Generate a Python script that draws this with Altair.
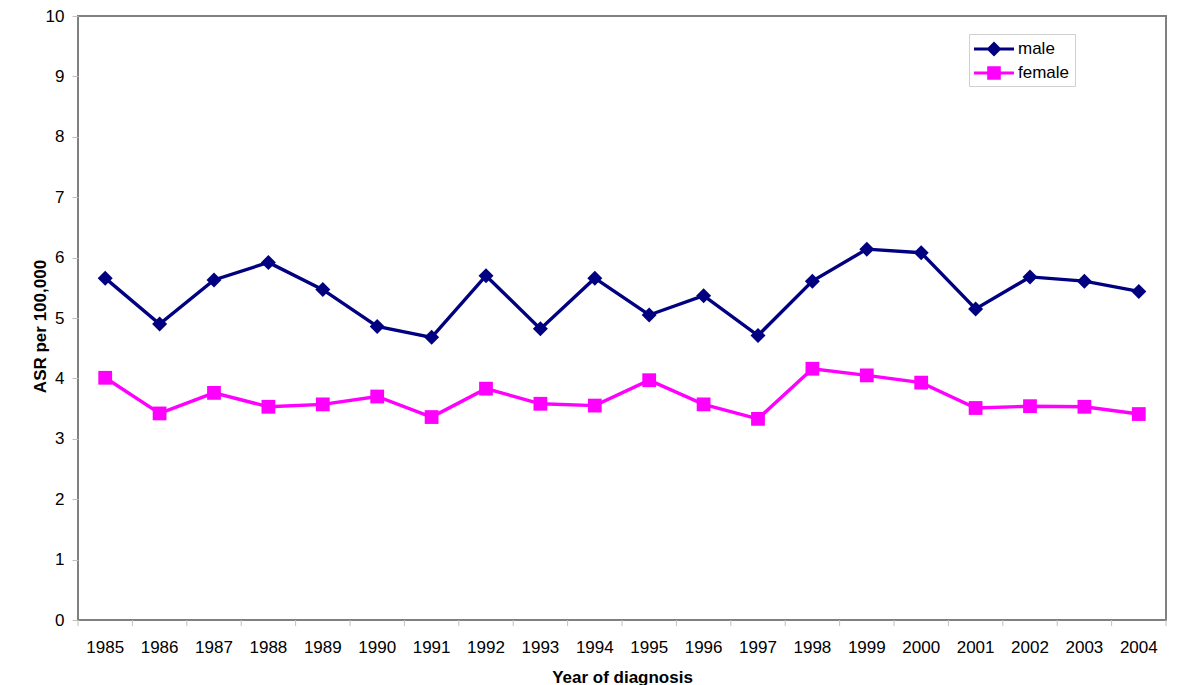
import altair as alt
import pandas as pd

years = [str(y) for y in range(1985, 2005)]
male = [5.66, 4.90, 5.63, 5.92, 5.47, 4.86, 4.68, 5.70, 4.82, 5.66,
        5.05, 5.37, 4.71, 5.61, 6.14, 6.08, 5.15, 5.68, 5.61, 5.44]
female = [4.01, 3.42, 3.76, 3.53, 3.57, 3.70, 3.36, 3.83, 3.58, 3.55,
          3.97, 3.57, 3.33, 4.16, 4.05, 3.93, 3.51, 3.54, 3.53, 3.41]
series = ["male", "female"]
colors = ["#000080", "#FF00FF"]

df = pd.DataFrame(
    {"year": years * 2,
     "sex": ["male"] * len(years) + ["female"] * len(years),
     "asr": male + female}
)

FONT = "Liberation Sans"
W, H = 1088, 604

xscale = alt.Scale(type="band", domain=years, paddingInner=0, paddingOuter=0)
yscale = alt.Scale(domain=[0, 10], nice=False)
cscale = alt.Scale(domain=series, range=colors)

x_axis = alt.Axis(title="Year of diagnosis", labelAngle=0, ticks=False, tickSize=0,
                  domain=False, labelPadding=19, labelFontSize=17, labelFont=FONT,
                  labelColor="black", titleFont=FONT, titleFontSize=17,
                  titleFontWeight="bold", titleColor="black", titleY=62,
                  titleBaseline="alphabetic", grid=False)
y_axis = alt.Axis(title="ASR per 100,000", values=list(range(0, 11)), format="d", tickSize=6,
                  tickColor="#c0c0c0", domain=False, labelPadding=8, labelFontSize=17,
                  labelFont=FONT, labelColor="black", titleFont=FONT, titleFontSize=17,
                  titleFontWeight="bold", titleColor="black", titleX=-38, titleY=310,
                  titleBaseline="middle", grid=False)

base = alt.Chart(df)
marker = {"male": ("diamond", 225), "female": ("square", 190)}

layers = []
for i, s in enumerate(series):
    sub = base.transform_filter(alt.datum.sex == s)
    enc = dict(
        x=alt.X("year:O", scale=xscale, axis=x_axis),
        y=alt.Y("asr:Q", scale=yscale, axis=y_axis),
    )
    layers.append(sub.mark_line(strokeWidth=3.4, color=colors[i]).encode(**enc))
    layers.append(sub.mark_point(filled=True, opacity=1, color=colors[i],
                                 shape=marker[s][0], size=marker[s][1]).encode(**enc))

male_sym = "M-2,-0.16L2,-0.16L2,0.16L-2,0.16Z M0,-0.75L0.75,0L0,0.75L-0.75,0Z"
female_sym = "M-2,-0.16L2,-0.16L2,0.16L-2,0.16Z M-0.68,-0.68L0.68,-0.68L0.68,0.68L-0.68,0.68Z"

legend = alt.Legend(
    title=None, orient="none", legendX=891, legendY=18,
    labelFont=FONT, labelFontSize=17, labelColor="black",
    symbolSize=400, symbolOffset=10, labelOffset=14, rowPadding=6,
    padding=5, strokeColor="#d0d0d0", fillColor="white",
    symbolStrokeWidth=0, symbolOpacity=1,
)

legend_layer = alt.Chart(pd.DataFrame({"sex": series})).mark_point(
    filled=True, opacity=0).encode(
    color=alt.Color("sex:N", scale=cscale, legend=legend),
    shape=alt.Shape("sex:N", scale=alt.Scale(domain=series, range=[male_sym, female_sym]), legend=legend),
)

ticks0 = alt.Chart(pd.DataFrame({"year": years})).mark_rule(color="#c0c0c0", strokeWidth=1).encode(
    x=alt.X("year:O", scale=xscale, axis=x_axis, bandPosition=0),
    y=alt.value(H), y2=alt.value(H + 6),
)
ticks1 = alt.Chart(pd.DataFrame({"year": years[-1:]})).mark_rule(color="#c0c0c0", strokeWidth=1).encode(
    x=alt.X("year:O", scale=xscale, axis=x_axis, bandPosition=1),
    y=alt.value(H), y2=alt.value(H + 6),
)

chart = alt.layer(ticks0, ticks1, *layers, legend_layer).properties(
    width=W, height=H,
    autosize=alt.AutoSizeParams(type="none"),
    padding={"left": 70, "top": 8, "right": 20, "bottom": 65},
).configure(background="white").configure_view(stroke="#808080", strokeWidth=2)

chart.save("out.html", embed_options={"renderer": "svg", "actions": False})
